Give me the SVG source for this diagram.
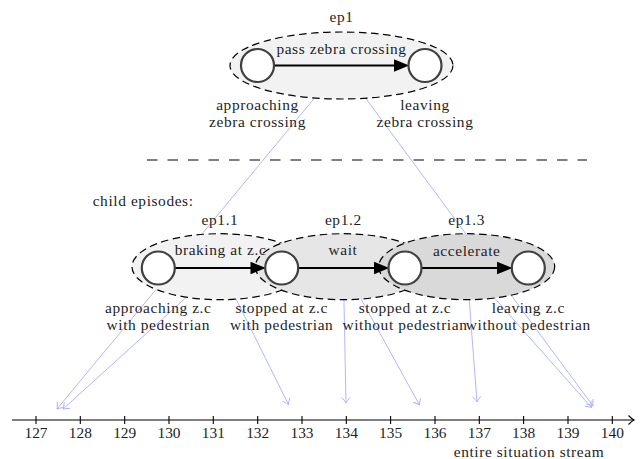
<svg xmlns="http://www.w3.org/2000/svg" width="640" height="459" viewBox="0 0 640 459">
<style>
.lbl{font-family:'Liberation Serif','DejaVu Serif',serif;font-size:15.4px;letter-spacing:0.6px;fill:#1e1e1e;text-anchor:middle}
.num{font-family:'Liberation Serif','DejaVu Serif',serif;font-size:15.4px;fill:#1e1e1e;text-anchor:middle}
.conn{stroke:#adadff;stroke-width:0.9;fill:none;marker-end:url(#open)}
.ep{stroke:#000;stroke-width:1.2;stroke-dasharray:7.5 4.5}
.st{fill:#fff;stroke:#404040;stroke-width:2.2}
.tr{stroke:#000;stroke-width:2;fill:none;marker-end:url(#tri)}
.axis{stroke:#000;stroke-width:1.1;fill:none}
</style>
<defs>
<marker id="open" markerUnits="userSpaceOnUse" markerWidth="12" markerHeight="12" viewBox="-7 -6 8 12" refX="0" refY="0" orient="auto">
<path d="M-5.5,-4.2 Q-2,-1 0,0 Q-2,1 -5.5,4.2" fill="none" stroke="#adadff" stroke-width="0.9"/>
</marker>
<marker id="tri" markerUnits="userSpaceOnUse" markerWidth="16" markerHeight="14" viewBox="0 0 14 12" refX="5" refY="6" orient="auto">
<path d="M0,0.5 L13.5,6 L0,11.5 Z" fill="#000"/>
</marker>
<marker id="axarr" markerUnits="userSpaceOnUse" markerWidth="12" markerHeight="12" viewBox="-7 -6 8 12" refX="0" refY="0" orient="auto">
<path d="M-5.5,-4.5 Q-2,-1 0,0 Q-2,1 -5.5,4.5" fill="none" stroke="#000" stroke-width="1.1"/>
</marker>
</defs>
<rect width="640" height="459" fill="#fff"/>

<g id="connectors">
<path class="conn" d="M341.5,65.5 L57,409"/>
<path class="conn" d="M341.5,65.5 L593,406"/>
<path class="conn" d="M220,266.7 L63,409"/>
<path class="conn" d="M220,266.7 L288.5,404.5"/>
<path class="conn" d="M343.3,266.7 L346,403"/>
<path class="conn" d="M343.3,266.7 L419.5,405"/>
<path class="conn" d="M466.7,266.7 L477,402"/>
<path class="conn" d="M466.7,266.7 L591.5,407.5"/>
</g>

<g id="separator">
<path d="M147,160 H587" stroke="#000" stroke-width="1.1" stroke-dasharray="10.5 10"/>
</g>

<g id="ep1">
<ellipse class="ep" cx="341.5" cy="65.5" rx="111.5" ry="33.5" fill="#f2f2f2"/>
<text class="lbl" x="341.5" y="22">ep1</text>
<path class="tr" d="M275,65.5 H399.5"/>
<text class="lbl" x="341.5" y="53.5">pass zebra crossing</text>
<circle class="st" cx="257.5" cy="65.5" r="16.5"/>
<circle class="st" cx="425" cy="65.5" r="16.5"/>
<text class="lbl" x="257.5" y="109.5">approaching</text>
<text class="lbl" x="257.5" y="127">zebra crossing</text>
<text class="lbl" x="425" y="109.5">leaving</text>
<text class="lbl" x="425" y="127">zebra crossing</text>
</g>

<text class="lbl" x="92.7" y="206" style="text-anchor:start">child episodes:</text>

<g id="ep1.1">
<ellipse class="ep" cx="220" cy="266.7" rx="88" ry="33" fill="#f2f2f2"/>
<text class="lbl" x="220" y="225">ep1.1</text>
</g>
<g id="ep1.2">
<ellipse class="ep" cx="343.3" cy="266.7" rx="88" ry="33" fill="#e6e6e6"/>
<text class="lbl" x="343.3" y="225">ep1.2</text>
</g>
<g id="ep1.3">
<ellipse class="ep" cx="466.7" cy="266.7" rx="88" ry="33" fill="#d9d9d9"/>
<text class="lbl" x="466.7" y="225">ep1.3</text>
</g>

<g id="transitions">
<path class="tr" d="M175,268 H256.2"/>
<text class="lbl" x="220.5" y="255">braking at z.c</text>
<path class="tr" d="M298.2,268 H379.5"/>
<text class="lbl" x="343" y="255">wait</text>
<path class="tr" d="M421.5,268 H502.8"/>
<text class="lbl" x="466.7" y="255.5">accelerate</text>
</g>

<g id="s1">
<circle class="st" cx="158.3" cy="268" r="16.5"/>
<text class="lbl" x="158.3" y="312.7">approaching z.c</text>
<text class="lbl" x="158.3" y="330">with pedestrian</text>
</g>
<g id="s2">
<circle class="st" cx="281.7" cy="268" r="16.5"/>
<text class="lbl" x="281.7" y="312.7">stopped at z.c</text>
<text class="lbl" x="281.7" y="330">with pedestrian</text>
</g>
<g id="s3">
<circle class="st" cx="405" cy="268" r="16.5"/>
<text class="lbl" x="405" y="312.7">stopped at z.c</text>
<text class="lbl" x="405" y="330">without pedestrian</text>
</g>
<g id="s4">
<circle class="st" cx="528.3" cy="268" r="16.5"/>
<text class="lbl" x="528.3" y="312.7">leaving z.c</text>
<text class="lbl" x="528.3" y="330">without pedestrian</text>
</g>

<g id="timeline">
<path class="axis" d="M12,420 H634" marker-end="url(#axarr)"/>
<path class="axis" d="M36,416 V424 M80.3,416 V424 M124.7,416 V424 M169,416 V424 M213.3,416 V424 M257.7,416 V424 M302,416 V424 M346.3,416 V424 M390.6,416 V424 M435,416 V424 M479.3,416 V424 M523.6,416 V424 M568,416 V424 M612.3,416 V424"/>
<text class="num" x="36" y="437.5">127</text>
<text class="num" x="80.3" y="437.5">128</text>
<text class="num" x="124.7" y="437.5">129</text>
<text class="num" x="169" y="437.5">130</text>
<text class="num" x="213.3" y="437.5">131</text>
<text class="num" x="257.7" y="437.5">132</text>
<text class="num" x="302" y="437.5">133</text>
<text class="num" x="346.3" y="437.5">134</text>
<text class="num" x="390.6" y="437.5">135</text>
<text class="num" x="435" y="437.5">136</text>
<text class="num" x="479.3" y="437.5">137</text>
<text class="num" x="523.6" y="437.5">138</text>
<text class="num" x="568" y="437.5">139</text>
<text class="num" x="612.3" y="437.5">140</text>
<text class="lbl" x="529" y="456.5">entire situation stream</text>
</g>
</svg>
